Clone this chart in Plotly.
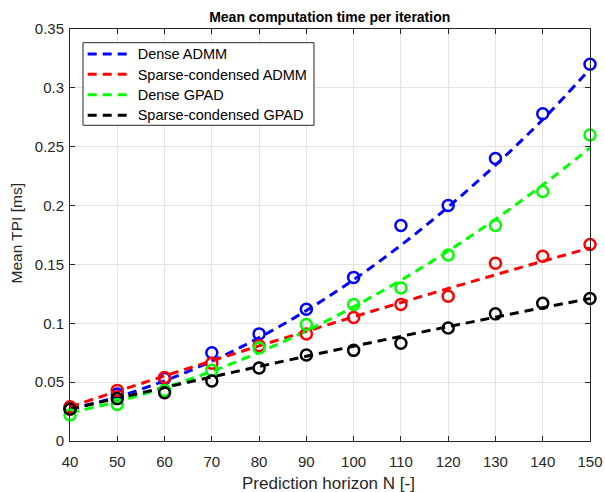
import plotly.graph_objects as go

N = [40, 50, 60, 70, 80, 90, 100, 110, 120, 130, 140, 150]

series_names = ["Dense ADMM", "Sparse-condensed ADMM", "Dense GPAD", "Sparse-condensed GPAD"]
series_colors = ["#0000ff", "#ff0000", "#00ff00", "#000000"]

# measured points (circles)
dense_admm = [0.028, 0.040, 0.053, 0.075, 0.091, 0.112, 0.139, 0.183, 0.200, 0.240, 0.278, 0.320]
sparse_admm = [0.029, 0.043, 0.054, 0.066, 0.081, 0.091, 0.105, 0.116, 0.123, 0.151, 0.157, 0.167]
dense_gpad = [0.022, 0.031, 0.043, 0.060, 0.079, 0.099, 0.116, 0.130, 0.158, 0.183, 0.212, 0.260]
sparse_gpad = [0.027, 0.036, 0.041, 0.051, 0.062, 0.073, 0.077, 0.083, 0.096, 0.108, 0.117, 0.121]

# fitted trend curves (dashed), read at each N
dense_admm_fit = [0.027, 0.0375, 0.0511, 0.0679, 0.0878, 0.1108, 0.137, 0.1663, 0.1988, 0.2344, 0.2731, 0.316]
sparse_admm_fit = [0.029, 0.0422, 0.0553, 0.0681, 0.0808, 0.0932, 0.1055, 0.1176, 0.1295, 0.1412, 0.1527, 0.164]
dense_gpad_fit = [0.024, 0.0335, 0.0453, 0.0592, 0.0753, 0.0935, 0.114, 0.1366, 0.1614, 0.1884, 0.2176, 0.249]
sparse_gpad_fit = [0.027, 0.0363, 0.0454, 0.0544, 0.0633, 0.0720, 0.0805, 0.0889, 0.0971, 0.1052, 0.1132, 0.121]

y_ticks = [0, 0.05, 0.1, 0.15, 0.2, 0.25, 0.3, 0.35]
y_ticktext = ["0", "0.05", "0.1", "0.15", "0.2", "0.25", "0.3", "0.35"]
x_ticks = N

points = [dense_admm, sparse_admm, dense_gpad, sparse_gpad]
fits = [dense_admm_fit, sparse_admm_fit, dense_gpad_fit, sparse_gpad_fit]

FONT = "Liberation Sans, Arial, sans-serif"

fig = go.Figure()
for name, col, fit in zip(series_names, series_colors, fits):
    fig.add_trace(go.Scatter(
        x=N, y=fit, mode="lines",
        name='<span style="font-size:14.5px">' + name + '</span>',
        line=dict(color=col, width=3, dash="9px,6px", shape="spline", smoothing=1.0),
        cliponaxis=False,
    ))
for name, col, pts in zip(series_names, series_colors, points):
    fig.add_trace(go.Scatter(
        x=N, y=pts, mode="markers", showlegend=False, name=name,
        marker=dict(symbol="circle-open", size=11, color=col, line=dict(color=col, width=2.5)),
        cliponaxis=False,
    ))

axis_common = dict(
    showline=True, linecolor="#262626", linewidth=1, mirror="ticks",
    ticks="inside", ticklen=5, tickcolor="#262626",
    showgrid=True, gridcolor="#e3e3e3", gridwidth=1, zeroline=False,
    automargin=False,
    tickfont=dict(family=FONT, size=15, color="#262626"),
)

fig.update_layout(
    width=605, height=492,
    paper_bgcolor="white", plot_bgcolor="white",
    margin=dict(l=70, r=15, t=29, b=51),
    title=dict(text="<b>Mean computation time per iteration</b>", x=0.545, xanchor="center",
               xref="container", y=0.9654, yanchor="middle",
               font=dict(family=FONT, size=14, color="black")),
    xaxis=dict(range=[40, 150], tickvals=x_ticks, ticklabelstandoff=7, **axis_common),
    yaxis=dict(range=[0, 0.35], tickvals=y_ticks, ticktext=y_ticktext, ticklabelstandoff=2,
               **axis_common),
    legend=dict(x=0.0244, y=0.9764, xanchor="left", yanchor="top",
                bgcolor="rgba(0,0,0,0)", borderwidth=0,
                font=dict(family=FONT, size=13.4, color="black"),
                tracegroupgap=0, itemwidth=45),
    showlegend=True,
    shapes=[
        dict(type="rect", xref="paper", yref="paper", x0=0.025, x1=0.4692, y0=0.7663, y1=0.9668,
             fillcolor="white", line=dict(color="#262626", width=1), layer="above"),
    ],
    annotations=[
        dict(text="Prediction horizon N [-]", xref="paper", yref="paper", x=0.498, y=-0.102,
             xanchor="center", yanchor="middle", showarrow=False,
             font=dict(family=FONT, size=17, color="#262626")),
        dict(text="Mean TPI [ms]", xref="paper", yref="paper", x=-0.102, y=0.506,
             xanchor="center", yanchor="middle", showarrow=False, textangle=-90,
             font=dict(family=FONT, size=15.5, color="#262626")),
    ],
)

fig.write_html(
    "out.html",
    config={"displayModeBar": False},
    post_script="document.body.style.margin='0';document.body.style.overflow='hidden';",
)
